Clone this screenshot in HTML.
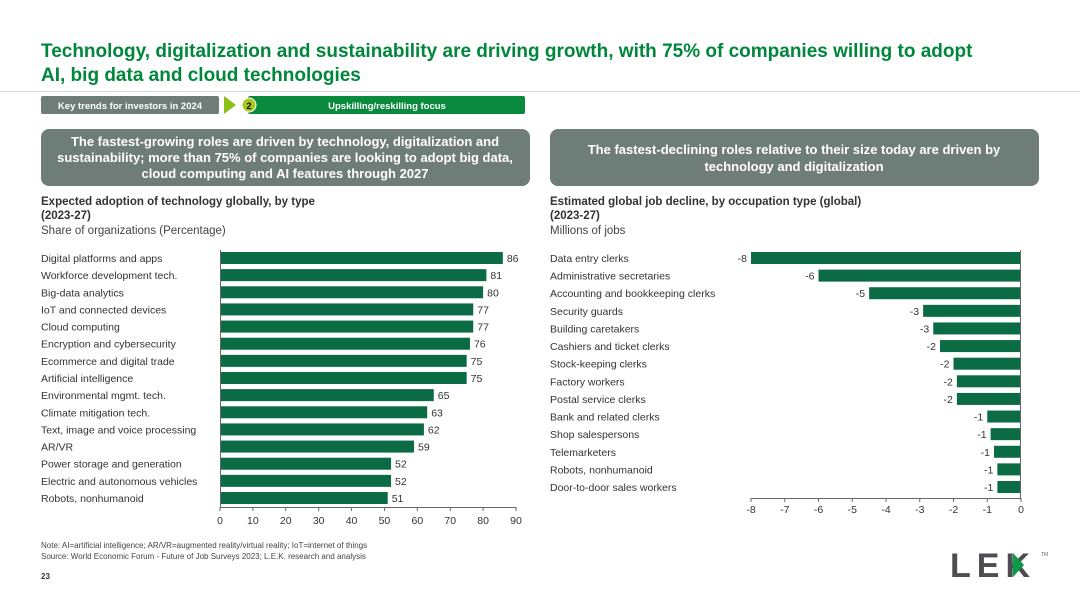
<!DOCTYPE html>
<html><head><meta charset="utf-8"><style>
body{margin:0;background:#fff}
svg{display:block;font-family:"Liberation Sans",Arial,sans-serif}
</style></head><body>
<svg id="page" width="1080" height="608" viewBox="0 0 1080 608">
<text x="41" y="57" font-size="19" font-weight="bold" fill="#00873c">Technology, digitalization and sustainability are driving growth, with 75% of companies willing to adopt</text>
<text x="41" y="81" font-size="19" font-weight="bold" fill="#00873c">AI, big data and cloud technologies</text>
<line x1="0" y1="91.5" x2="1080" y2="91.5" stroke="#d8d8d8"/>
<g>
<rect x="41" y="96" width="178" height="18" rx="2" fill="#6e7d78"/>
<text x="130" y="109" font-size="9.5" font-weight="bold" fill="#fff" text-anchor="middle">Key trends for investors in 2024</text>
<polygon points="224,96 224,114 236,105" fill="#8cbf1a"/>
<rect x="248" y="96" width="277" height="18" rx="2" fill="#0a8a3c"/>
<circle cx="249" cy="105" r="7" fill="#a8c81a" stroke="#fff" stroke-width="1"/>
<text x="249" y="109" font-size="9.5" font-weight="bold" fill="#111" text-anchor="middle">2</text>
<text x="387" y="109" font-size="9.5" font-weight="bold" fill="#fff" text-anchor="middle">Upskilling/reskilling focus</text>
</g>
<g>
<rect x="41" y="129" width="489" height="57" rx="8" fill="#6e7d78"/>
<text font-size="13" font-weight="bold" fill="#fff" text-anchor="middle"><tspan x="285" y="146">The fastest-growing roles are driven by technology, digitalization and</tspan><tspan x="285" y="162">sustainability; more than 75% of companies are looking to adopt big data,</tspan><tspan x="285" y="178">cloud computing and AI features through 2027</tspan></text>
</g>
<g>
<rect x="550" y="129" width="489" height="57" rx="8" fill="#6e7d78"/>
<text font-size="13" font-weight="bold" fill="#fff" text-anchor="middle"><tspan x="794" y="154">The fastest-declining roles relative to their size today are driven by</tspan><tspan x="794" y="171">technology and digitalization</tspan></text>
</g>
<g font-size="11.5" fill="#333">
<text x="41" y="205" font-weight="bold">Expected adoption of technology globally, by type</text>
<text x="41" y="219" font-weight="bold">(2023-27)</text>
<text x="41" y="234" fill="#444">Share of organizations (Percentage)</text>
</g>
<g font-size="11.5" fill="#333">
<text x="550" y="205" font-weight="bold">Estimated global job decline, by occupation type (global)</text>
<text x="550" y="219" font-weight="bold">(2023-27)</text>
<text x="550" y="234" fill="#444">Millions of jobs</text>
</g>
<g id="left-chart"></g>
<g id="right-chart"></g>
<text x="41" y="548" font-size="8" fill="#444">Note: AI=artificial intelligence; AR/VR=augmented reality/virtual reality; IoT=internet of things</text>
<text x="41" y="559" font-size="8" fill="#444">Source:    World Economic Forum - Future of Job Surveys 2023; L.E.K. research and analysis</text>
<text x="41" y="579" font-size="8" font-weight="bold" fill="#333">23</text>
<g>
<text x="950" y="577" font-size="34" font-weight="bold" fill="#4d4d52" letter-spacing="6">LEK</text>
<polygon points="1013,553 1024,565 1013,577" fill="#0a9a48"/>
<text x="1041" y="556" font-size="5" fill="#666">TM</text>
</g>
</svg>
<script>
const techCategories=["Digital platforms and apps","Workforce development tech.","Big-data analytics","IoT and connected devices","Cloud computing","Encryption and cybersecurity","Ecommerce and digital trade","Artificial intelligence","Environmental mgmt. tech.","Climate mitigation tech.","Text, image and voice processing","AR/VR","Power storage and generation","Electric and autonomous vehicles","Robots, nonhumanoid"];
const techValues=[86,81,80,77,77,76,75,75,65,63,62,59,52,52,51];
const techTicks=[0,10,20,30,40,50,60,70,80,90];
const jobCategories=["Data entry clerks","Administrative secretaries","Accounting and bookkeeping clerks","Security guards","Building caretakers","Cashiers and ticket clerks","Stock-keeping clerks","Factory workers","Postal service clerks","Bank and related clerks","Shop salespersons","Telemarketers","Robots, nonhumanoid","Door-to-door sales workers"];
const jobValues=[-8.0,-6.0,-4.5,-2.9,-2.6,-2.4,-2.0,-1.9,-1.9,-1.0,-0.9,-0.8,-0.7,-0.7];
const jobLabels=[-8,-6,-5,-3,-3,-2,-2,-2,-2,-1,-1,-1,-1,-1];
const jobTicks=[-8,-7,-6,-5,-4,-3,-2,-1,0];
const NS="http://www.w3.org/2000/svg";
function mk(p,t,a,txt){const e=document.createElementNS(NS,t);for(const k in a)e.setAttribute(k,a[k]);if(txt!==undefined)e.textContent=txt;p.appendChild(e);return e;}
const BAR="#0b6b45";
// left
(function(){
const g=document.getElementById('left-chart');
const x=v=>220+v*(296/90);
const y=i=>258+i*(240/14);
techCategories.forEach((c,i)=>{
 const t=mk(g,'text',{x:41,y:y(i)+4,'font-size':10.5,fill:'#333'},c);
 
 
 const r=mk(g,'rect',{x:x(0),y:y(i)-6,width:x(techValues[i])-x(0),height:12,fill:BAR});
 
 
 const v=mk(g,'text',{x:x(techValues[i])+4,y:y(i)+4,'font-size':10.5,fill:'#333'},techValues[i]);
 
 
});
const ax=mk(g,'line',{x1:x(0),y1:507.5,x2:x(90),y2:507.5,stroke:'#666'});


mk(g,'line',{x1:x(0)+0.5,y1:250,x2:x(0)+0.5,y2:507,stroke:'#666'});
techTicks.forEach(t=>{
 mk(g,'line',{x1:x(t),y1:507,x2:x(t),y2:511,stroke:'#666'});
 const l=mk(g,'text',{x:x(t),y:524,'font-size':10.5,fill:'#333','text-anchor':'middle'},t);
 
 
});
})();
// right
(function(){
const g=document.getElementById('right-chart');
const x=v=>1021+v*(270/8);
const y=i=>258+i*(229/13);
jobCategories.forEach((c,i)=>{
 const t=mk(g,'text',{x:550,y:y(i)+4,'font-size':10.5,fill:'#333'},c);
 
 
 const r=mk(g,'rect',{x:x(jobValues[i]),y:y(i)-6,width:x(0)-x(jobValues[i]),height:12,fill:BAR});
 
 
 const v=mk(g,'text',{x:x(jobValues[i])-4,y:y(i)+4,'font-size':10.5,fill:'#333','text-anchor':'end'},jobLabels[i]);
 
 
});
const ax=mk(g,'line',{x1:x(-8),y1:498.5,x2:x(0),y2:498.5,stroke:'#666'});


mk(g,'line',{x1:x(0)-0.5,y1:250,x2:x(0)-0.5,y2:498,stroke:'#666'});
jobTicks.forEach(t=>{
 mk(g,'line',{x1:x(t),y1:498,x2:x(t),y2:502,stroke:'#666'});
 const l=mk(g,'text',{x:x(t),y:513,'font-size':10.5,fill:'#333','text-anchor':'middle'},t);
 
 
});
})();
</script>
</body></html>
